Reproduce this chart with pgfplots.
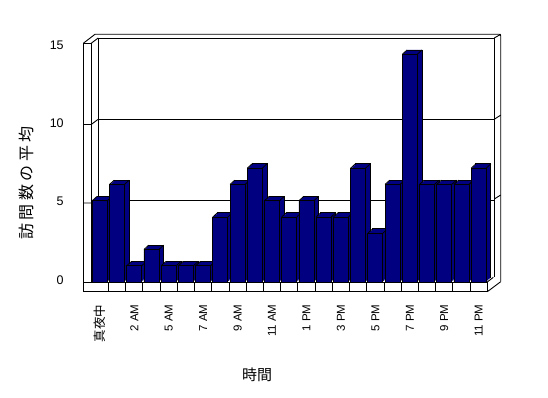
\documentclass[border=0pt]{standalone}
\usepackage{fontspec}
\setmainfont{Liberation Sans}
\newfontfamily\jp{Noto Sans CJK JP}
\usepackage{pgfplots}
\pgfplotsset{compat=1.18}
\usepackage{pgfplotstable}
\definecolor{navy}{HTML}{000080}

\pgfplotstableread{
x v
0 5
1 6
2 1
3 2
4 1
5 1
6 1
7 4
8 6
9 7
10 5
11 4
12 5
13 4
14 4
15 7
16 3
17 6
18 14
19 6
20 6
21 6
22 7
}\datatable

\pgfplotsset{bar3d/.style={ybar, bar width=15pt, bar shift=0pt, fill=navy, draw=none}}

\begin{document}
\begin{tikzpicture}
\useasboundingbox (0pt,0pt) rectangle (548pt,398pt);
% 3D frame (walls and floor)
\begin{scope}[line width=0.9pt, black]
\draw (83.3pt,354.7pt) -- (83.3pt,106.3pt);
\draw (91.2pt,354.7pt) -- (91.2pt,116pt);
\draw (83.3pt,354.7pt) -- (91.2pt,354.7pt);
\draw (83.3pt,354.7pt) -- (95pt,363.7pt) -- (499.3pt,363.7pt) -- (500.7pt,362.3pt) -- (500.7pt,116.3pt);
\draw (91.2pt,354.7pt) -- (98.2pt,360pt);
\draw (98.2pt,360pt) -- (98.2pt,122pt);
\draw (494.3pt,360pt) -- (494.3pt,121pt);
\draw (494.3pt,360pt) -- (500.7pt,363.7pt);
\draw (83.3pt,195pt) -- (91.2pt,195pt) -- (98.2pt,199pt);
\draw (83.3pt,273.5pt) -- (91.2pt,273.5pt) -- (98.2pt,278.7pt);
\draw (494.3pt,199pt) -- (500.7pt,203pt);
\draw (494.3pt,278.7pt) -- (500.7pt,282.9pt);
\draw (83.3pt,116pt) -- (487.3pt,116pt);
\draw (83.3pt,106.3pt) -- (487.3pt,106.3pt);
\draw (487.3pt,116pt) -- (493.3pt,120.7pt);
\draw (487.3pt,106.3pt) -- (500.7pt,116.3pt);
\end{scope}

\begin{axis}[
  at={(91.2pt,116pt)}, anchor=south west,
  scale only axis, width=396.1pt, height=244pt,
  xmin=-0.5, xmax=22.5, ymin=0, ymax=15,
  clip=false,
  axis line style={draw=none},
  xtick={0,2,...,22},
  xticklabels={{\jp\fontsize{12.5}{14}\selectfont 真夜中},2 AM,5 AM,7 AM,9 AM,11 AM,1 PM,3 PM,5 PM,7 PM,9 PM,11 PM},
  minor xtick={0.5,1.5,...,22.5},
  xtick pos=bottom, ytick pos=left, tick align=outside,
  major tick length=0pt, minor tick length=9.7pt,
  minor tick style={black, line width=0.9pt},
  xticklabel style={rotate=90, anchor=east, font=\fontsize{11.5}{13}\selectfont},
  xticklabel shift=19pt,
  ytick={5,10,15}, yticklabel=\empty,
  ymajorgrids, major grid style={black, line width=0.9pt, xshift=7pt},
  xlabel={\jp 時間},
  xlabel style={at={(axis description cs:0.4186,-0.381)}, anchor=center, font=\fontsize{15}{17}\selectfont},
  ylabel={\jp\addfontfeature{LetterSpace=22}訪問数の平均},
  ylabel style={at={(axis description cs:-0.164,0.4057)}, anchor=center, font=\fontsize{16}{18}\selectfont},
]
\addplot[bar3d, draw=black, line width=0.8pt, xshift=4.7pt, yshift=4.3pt] table[x=x,y=v]{\datatable};
\addplot[bar3d, xshift=3.76pt, yshift=3.44pt] table[x=x,y=v]{\datatable};
\addplot[bar3d, xshift=2.82pt, yshift=2.58pt] table[x=x,y=v]{\datatable};
\addplot[bar3d, xshift=1.88pt, yshift=1.72pt] table[x=x,y=v]{\datatable};
\addplot[bar3d, xshift=0.94pt, yshift=0.86pt] table[x=x,y=v]{\datatable};
\addplot[-, black, line width=0.8pt, mark=none, quiver={u=0.273, v=0.264}] table[x expr=\thisrow{x}-0.4355, y=v]{\datatable};
\addplot[-, black, line width=0.8pt, mark=none, quiver={u=0.273, v=0.264}] table[x expr=\thisrow{x}+0.4355, y=v]{\datatable};
\addplot[bar3d, draw=black, line width=0.8pt] table[x=x,y=v]{\datatable};
\end{axis}

% tick labels of the front-left wall edge
\begin{axis}[
  at={(91.2pt,118pt)}, anchor=south west,
  scale only axis, width=396.1pt, height=235pt,
  xmin=0, xmax=1, ymin=0, ymax=15,
  axis line style={draw=none},
  xtick=\empty, ytick={0,5,10,15},
  major tick length=0pt,
  yticklabel shift=24pt,
  yticklabel style={font=\fontsize{12.5}{14}\selectfont},
  /pgf/number format/assume math mode=true,
]
\end{axis}
\end{tikzpicture}
\end{document}
